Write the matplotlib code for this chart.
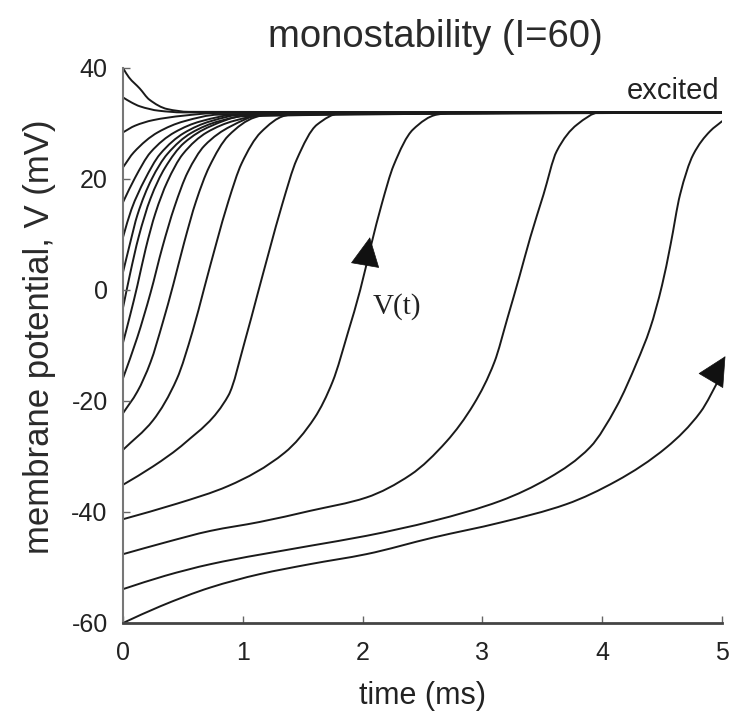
import matplotlib
matplotlib.use("Agg")
import matplotlib.pyplot as plt
from matplotlib.path import Path
from matplotlib.patches import PathPatch
import numpy as np

plt.rcParams['font.family'] = ['Liberation Sans', 'DejaVu Sans']
plt.rcParams['axes.unicode_minus'] = False

# trajectories: time (ms), membrane potential (mV)
t_a = [0, 0.31, 0.73, 1.14, 1.56, 2.03, 2.59, 3.15, 3.70, 4.12, 4.54, 4.82, 4.99]
v_a = [-60, -57.0, -53.6, -51.2, -49.4, -47.6, -44.6, -41.9, -38.6, -34.4, -28.3, -22.0, -15.5]

t_b = [0, 0.35, 0.73, 1.56, 2.03, 2.59, 3.15, 3.56, 3.90, 4.12, 4.29, 4.40, 4.50, 4.57, 4.65, 4.76, 4.90, 5.0]
v_b = [-53.9, -51.5, -49.4, -46.1, -44.3, -41.6, -38.0, -33.8, -28.3, -21.0, -13.0, -6.9, 0.9, 8.1, 17.2, 24.4, 28.6, 30.4]

t_c = [0, 0.35, 0.73, 1.14, 1.56, 2.03, 2.40, 2.70, 2.93, 3.10, 3.21, 3.31, 3.40, 3.51, 3.62, 3.79, 3.98, 5.0]
v_c = [-47.6, -45.5, -43.4, -41.8, -39.8, -37.4, -33.3, -27.3, -20.5, -13.0, -5.0, 2.5, 9.5, 17.2, 25.0, 29.8, 32.0, 32.0]

t_d = [0, 0.45, 0.88, 1.35, 1.60, 1.75, 1.88, 1.98, 2.07, 2.16, 2.26, 2.42, 2.62, 2.8, 5.0]
v_d = [-41.3, -38.5, -35.3, -29.3, -23.0, -16.5, -7.5, 0.0, 8.0, 15.5, 22.5, 28.9, 31.6, 32.0, 32.0]

t_e = [0, 0.25, 0.52, 0.88, 1.02, 1.12, 1.22, 1.33, 1.45, 1.62, 1.81, 5.0]
v_e = [-35.1, -31.8, -27.5, -19.0, -9.0, -1.0, 7.0, 15.5, 23.5, 29.8, 31.8, 32.0]

t_f = [0, 0.25, 0.45, 0.58, 0.68, 0.78, 0.88, 0.99, 1.15, 1.35, 1.55, 5.0]
v_f = [-28.8, -23.5, -16.0, -7.5, 0.5, 8.5, 16.0, 22.8, 28.4, 31.4, 32.0, 32.0]

t_g = [0, 0.12, 0.23, 0.33, 0.42, 0.51, 0.61, 0.72, 0.88, 1.10, 1.3, 5.0]
v_g = [-22.2, -18.3, -13.0, -6.0, 1.0, 8.5, 16.0, 22.2, 27.8, 31.1, 32.0, 32.0]

t_h = [0, 0.12, 0.23, 0.33, 0.43, 0.54, 0.68, 0.90, 1.15, 5.0]
v_h = [-15.9, -8.5, -0.5, 7.8, 15.0, 21.2, 26.0, 29.5, 31.5, 32.0]

t_i = [0, 0.06, 0.12, 0.19, 0.27, 0.37, 0.50, 0.70, 0.93, 1.2, 5.0]
v_i = [-9.5, -4.5, 0.8, 7.5, 13.8, 19.5, 24.5, 28.4, 30.5, 31.6, 32.0]

t_j = [0, 0.06, 0.13, 0.23, 0.35, 0.51, 0.73, 1.0, 5.0]
v_j = [-3.2, 3.0, 9.5, 16.5, 22.0, 26.5, 29.5, 31.3, 32.0]

t_k = [0, 0.06, 0.12, 0.24, 0.37, 0.57, 0.80, 1.1, 5.0]
v_k = [3.2, 8.5, 13.5, 20.0, 24.5, 28.3, 30.4, 31.6, 32.0]

t_l = [0, 0.07, 0.18, 0.31, 0.51, 0.73, 1.0, 5.0]
v_l = [9.5, 14.5, 19.8, 24.5, 28.3, 30.4, 31.6, 32.0]

t_m = [0, 0.10, 0.23, 0.43, 0.65, 0.95, 5.0]
v_m = [15.8, 20.2, 24.8, 28.4, 30.4, 31.6, 32.0]

t_n = [0, 0.09, 0.29, 0.51, 0.8, 5.0]
v_n = [22.1, 24.8, 28.4, 30.4, 31.6, 32.0]

t_o = [0, 0.1, 0.25, 0.5, 0.8, 5.0]
v_o = [28.4, 29.6, 30.6, 31.4, 31.9, 32.0]

t_p = [0, 0.07, 0.14, 0.3, 0.5, 5.0]
v_p = [34.7, 33.8, 33.1, 32.3, 32.0, 32.0]

t_q = [0, 0.05, 0.14, 0.22, 0.37, 0.55, 5.0]
v_q = [40.0, 38.3, 36.3, 34.3, 32.6, 32.1, 32.0]

curves = [(t_a, v_a), (t_b, v_b), (t_c, v_c), (t_d, v_d), (t_e, v_e), (t_f, v_f),
          (t_g, v_g), (t_h, v_h), (t_i, v_i), (t_j, v_j), (t_k, v_k), (t_l, v_l),
          (t_m, v_m), (t_n, v_n), (t_o, v_o), (t_p, v_p), (t_q, v_q)]

xticks = [0, 1, 2, 3, 4, 5]
yticks = [-60, -40, -20, 0, 20, 40]


def smooth_path(x, y):
    # monotone cubic (bezier) segments through the read points
    x = np.asarray(x, float)
    y = np.asarray(y, float)
    h = np.diff(x)
    d = np.diff(y) / h
    m = np.zeros_like(y)
    m[0], m[-1] = d[0], d[-1]
    for k in range(1, len(y) - 1):
        if d[k - 1] * d[k] > 0:
            w1 = 2 * h[k] + h[k - 1]
            w2 = h[k] + 2 * h[k - 1]
            m[k] = (w1 + w2) / (w1 / d[k - 1] + w2 / d[k])
    verts = [(x[0], y[0])]
    codes = [Path.MOVETO]
    for k in range(len(h)):
        verts += [(x[k] + h[k] / 3, y[k] + m[k] * h[k] / 3),
                  (x[k + 1] - h[k] / 3, y[k + 1] - m[k + 1] * h[k] / 3),
                  (x[k + 1], y[k + 1])]
        codes += [Path.CURVE4] * 3
    return Path(verts, codes)


fig = plt.figure(figsize=(7.33, 7.12), dpi=100)
ax = fig.add_axes([0.1678, 0.125, 0.8172, 0.7795])

for t, v in curves:
    ax.add_patch(PathPatch(smooth_path(t, v), fill=False, edgecolor='#1a1a1a',
                           lw=1.4, capstyle='round'))

# direction arrows
ax.annotate('', xy=(2.065, 10.0), xytext=(2.025, 5.0),
            arrowprops=dict(arrowstyle='-|>,head_length=0.9,head_width=0.45',
                            color='#111', lw=0.5, mutation_scale=22))
ax.annotate('', xy=(5.04, -11.5), xytext=(4.93, -15.5), annotation_clip=False,
            arrowprops=dict(arrowstyle='-|>,head_length=0.9,head_width=0.45',
                            color='#111', lw=0.5, mutation_scale=22))

ax.text(4.98, 35.8, 'excited', ha='right', va='center', fontsize=21, color='#222')
ax.text(2.08, -2.9, 'V(t)', ha='left', va='center', fontsize=21, color='#222',
        family='Liberation Serif')

ax.set_xlim(0, 5)
ax.set_ylim(-60, 40)
ax.set_xticks(xticks)
ax.set_yticks(yticks)
ax.tick_params(direction='in', length=5, width=1, colors='#666', labelcolor='#222',
               labelsize=18)
ax.tick_params(axis='x', pad=13)
ax.tick_params(axis='y', pad=11)
for s in ['top', 'right']:
    ax.spines[s].set_visible(False)
ax.spines['left'].set_color('#777')
ax.spines['left'].set_linewidth(1.5)
ax.spines['bottom'].set_color('#444')
ax.spines['bottom'].set_linewidth(2)

ax.set_xlabel('time (ms)', fontsize=22, color='#222')
ax.set_ylabel('membrane potential, V (mV)', fontsize=25, color='#2a2a2a')
ax.xaxis.set_label_coords(0.5, -0.105)
ax.yaxis.set_label_coords(-0.112, 0.515)

fig.text(0.5934, 0.948, 'monostability (I=60)', ha='center', va='center',
         fontsize=27.5, color='#2a2a2a')

fig.savefig('out.png', dpi=100)
